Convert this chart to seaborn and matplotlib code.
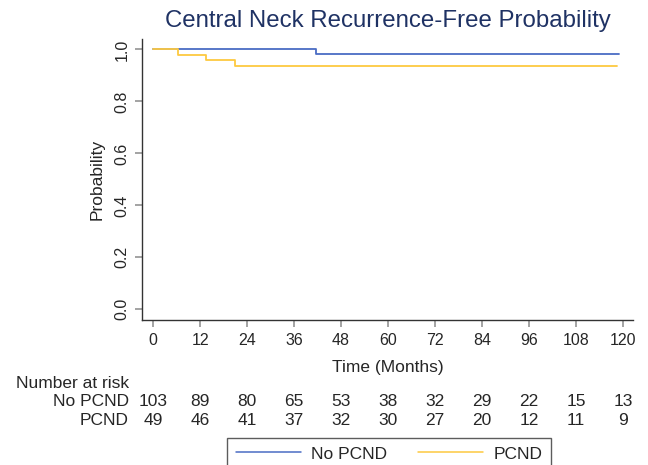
import numpy as np
import pandas as pd
import matplotlib
matplotlib.use("Agg")
import matplotlib.pyplot as plt
import seaborn as sns

sns.set_style("ticks")
plt.rcParams["font.family"] = ["Liberation Sans", "DejaVu Sans"]

# ---------------------------------------------------------------
# Data
# ---------------------------------------------------------------
groups = ["No PCND", "PCND"]
no_pcnd_time = [0, 41.6, 119.1]
no_pcnd_surv = [1.0, 0.984, 0.984]
pcnd_time = [0, 6.2, 13.5, 20.8, 118.6]
pcnd_surv = [1.0, 0.980, 0.958, 0.935, 0.935]

risk_times = [0, 12, 24, 36, 48, 60, 72, 84, 96, 108, 120]
risk_no_pcnd = [103, 89, 80, 65, 53, 38, 32, 29, 22, 15, 13]
risk_pcnd = [49, 46, 41, 37, 32, 30, 27, 20, 12, 11, 9]

y_ticks = [0.0, 0.2, 0.4, 0.6, 0.8, 1.0]

palette = {"No PCND": "#4a6cc4", "PCND": "#fdc940"}

df = pd.concat([
    pd.DataFrame({"time": no_pcnd_time, "surv": no_pcnd_surv, "group": "No PCND"}),
    pd.DataFrame({"time": pcnd_time, "surv": pcnd_surv, "group": "PCND"}),
], ignore_index=True)

FS = 12.5      # labels / table / legend
TICK_FS = 11.5

# ---------------------------------------------------------------
# Plot
# ---------------------------------------------------------------
fig = plt.figure(figsize=(6.48, 4.65), dpi=100)
ax = fig.add_axes([0.2196, 0.3118, 0.9769 - 0.2196, 0.9155 - 0.3118])

sns.lineplot(data=df, x="time", y="surv", hue="group", hue_order=groups,
             palette=palette, drawstyle="steps-post", estimator=None,
             linewidth=1.3, ax=ax, legend=False)

ax.set_xlim(-2.8, 122.6)
ax.set_ylim(-0.041, 1.039)
ax.set_xticks(risk_times)
ax.set_yticks(y_ticks)
ax.set_yticklabels([f"{v:.1f}" for v in y_ticks], rotation=90, va="center")
ax.tick_params(axis="both", length=5, width=1.1, color="#8a8a8a",
               labelsize=TICK_FS, pad=4)
for side in ["top", "right"]:
    ax.spines[side].set_visible(False)
for side in ["left", "bottom"]:
    ax.spines[side].set_color("#333333")
    ax.spines[side].set_linewidth(1.0)

ax.set_xlabel("Time (Months)", fontsize=FS, labelpad=9)
ax.set_ylabel("Probability", fontsize=FS, labelpad=7)
ax.set_title("Central Neck Recurrence-Free Probability", fontsize=17.3,
             color="#1f3264", pad=9)

# number-at-risk table
fig.text(16 / 648, 1 - 383 / 465, "Number at risk", fontsize=FS,
         ha="left", va="center")
trans = matplotlib.transforms.blended_transform_factory(ax.transData, fig.transFigure)
for label, counts, ypx in [("No PCND", risk_no_pcnd, 401), ("PCND", risk_pcnd, 420)]:
    fig.text(129 / 648, 1 - ypx / 465, label, fontsize=FS, ha="right", va="center")
    for t, n in zip(risk_times, counts):
        ax.text(t, 1 - ypx / 465, str(n), transform=trans, fontsize=FS,
                ha="center", va="center", clip_on=False)

# legend
handles = [matplotlib.lines.Line2D([], [], color=palette[g], linewidth=1.1) for g in groups]
leg = fig.legend(handles, groups, ncol=2, loc="upper left",
                 bbox_to_anchor=(227 / 648, 1 - 437.7 / 465),
                 frameon=True, fancybox=False, edgecolor="#333333",
                 fontsize=FS, handlelength=3.75, handletextpad=0.6,
                 columnspacing=1.75, borderpad=0.5, borderaxespad=0)
leg.get_frame().set_linewidth(1.0)

fig.savefig("out.png", dpi=100)
